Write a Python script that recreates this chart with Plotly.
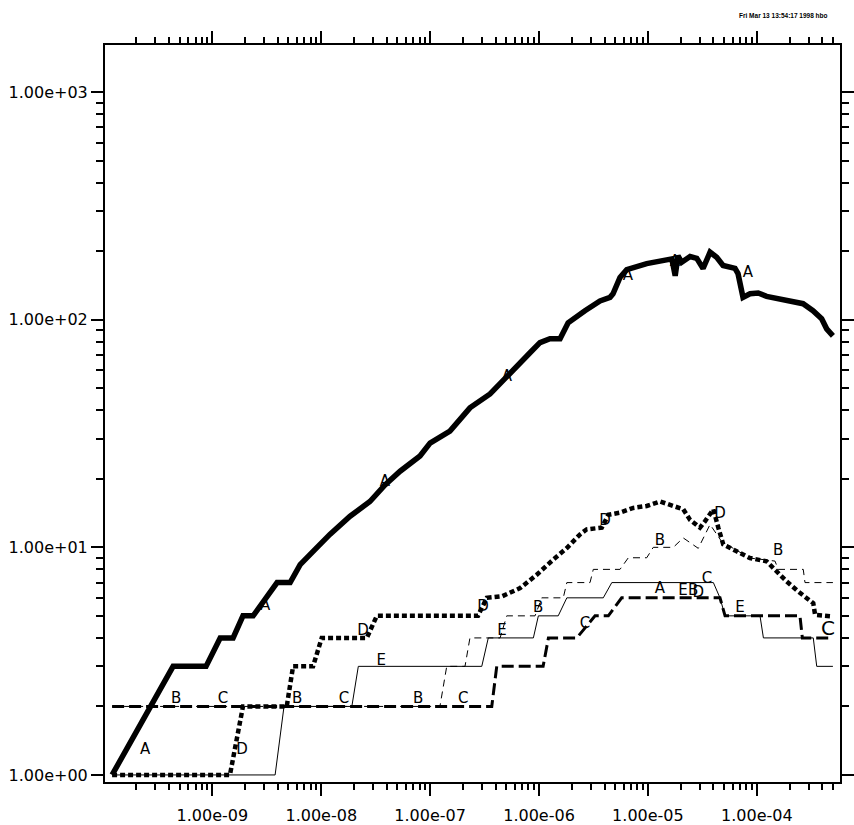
import plotly.graph_objects as go

# ---- series data (x: time, y: count) ----
a_x = [1.2e-10, 4.36e-10, 8.75e-10, 1.18e-9, 1.55e-9, 1.91e-9, 2.37e-9, 3.93e-9, 5.18e-9,
       6.4e-9, 8.78e-9, 1.2e-8, 1.84e-8, 2.8e-8, 3.85e-8, 5.3e-8, 8.07e-8, 9.98e-8, 1.52e-7,
       2.32e-7, 3.55e-7, 4.87e-7, 6.69e-7, 8.26e-7, 1.02e-6, 1.26e-6, 1.56e-6, 1.85e-6,
       2.64e-6, 3.63e-6, 4.49e-6, 4.78e-6, 5.54e-6, 6.39e-6, 9.75e-6, 1.38e-5, 1.66e-5,
       1.78e-5, 1.89e-5, 2.04e-5, 2.44e-5, 2.81e-5, 3.21e-5, 3.72e-5, 4.28e-5, 4.9e-5,
       6.31e-5, 6.72e-5, 7.47e-5, 8.66e-5, 1.03e-4, 1.23e-4, 1.74e-4, 2.66e-4, 3.28e-4,
       3.94e-4, 4.38e-4, 5.0e-4]
a_y = [1, 3, 3, 4, 4, 5, 5, 7, 7,
       8.4, 9.8, 11.4, 13.7, 15.9, 18.8, 21.6, 25.2, 28.7, 32.4,
       41, 47.2, 55.5, 64.7, 71.6, 79.3, 82.5, 82.5, 97,
       109.6, 121, 125.4, 130, 153.5, 166, 176.5, 182, 185,
       156, 191, 178.8, 189.5, 186, 168, 198, 188, 173,
       168, 159.5, 125.4, 130, 131, 126.7, 122.5, 117.6, 109.6,
       101, 91.2, 85]

b_x = [1.2e-10, 1.23e-7, 1.42e-7, 2.09e-7, 2.32e-7, 4.39e-7, 5.05e-7, 9.19e-7, 1.06e-6,
       1.67e-6, 1.80e-6, 2.94e-6, 3.15e-6, 5.54e-6, 6.61e-6, 9.75e-6, 1.12e-5, 1.71e-5,
       2.11e-5, 2.90e-5, 3.72e-5, 4.76e-5, 6.08e-5, 8.65e-5, 1.23e-4, 1.47e-4, 1.57e-4,
       2.67e-4, 2.77e-4, 5.0e-4]
b_y = [2, 2, 3, 3, 4, 4, 5, 5, 6,
       6, 7, 7, 8, 8, 9, 9, 10, 10,
       11, 9.9, 12.6, 10.6, 9.9, 8.97, 8.8, 8.7, 8,
       8, 7, 7]

c_x = [1.2e-10, 3.68e-7, 4.09e-7, 1.09e-6, 1.22e-6, 2.22e-6, 3.27e-6, 4.33e-6, 5.74e-6,
       4.59e-5, 5.11e-5, 2.49e-4, 2.62e-4, 5.0e-4]
c_y = [2, 2, 3, 3, 4, 4, 5, 5, 6,
       6, 5, 5, 4, 4]

d_x = [1.2e-10, 1.45e-9, 1.91e-9, 4.82e-9, 5.51e-9, 8.41e-9, 1.01e-8, 2.62e-8, 3.24e-8,
       2.75e-7, 3.31e-7, 4.6e-7, 6.70e-7, 9.53e-7, 1.35e-6, 1.80e-6, 2.38e-6, 2.74e-6,
       3.77e-6, 4.33e-6, 5.54e-6, 7.34e-6, 9.75e-6, 1.29e-5, 1.71e-5, 2.11e-5, 2.44e-5,
       3.01e-5, 3.34e-5, 3.99e-5, 4.43e-5, 4.92e-5, 6.53e-5, 8.65e-5, 1.23e-4, 1.52e-4,
       1.88e-4, 2.40e-4, 2.87e-4, 3.30e-4, 3.43e-4, 5.0e-4]
d_y = [1, 1, 2, 2, 3, 3, 4, 4, 5,
       5, 6, 6.1, 6.62, 7.58, 8.83, 9.93, 11.4, 12.0,
       12.2, 13.9, 14.2, 14.9, 15.2, 15.9, 15.2, 14.7, 13.2,
       12.2, 13.0, 14.7, 12.2, 10.3, 9.6, 8.97, 8.68, 7.84,
       7.08, 6.4, 5.98, 5.68, 5.05, 4.97]

e_x = [1.2e-10, 3.77e-9, 4.55e-9, 1.91e-8, 2.19e-8, 2.98e-7, 3.42e-7, 8.87e-7, 9.86e-7,
       1.50e-6, 1.80e-6, 3.89e-6, 4.66e-6, 3.99e-5, 4.59e-5, 5.11e-5, 1.07e-4, 1.15e-4,
       3.30e-4, 3.55e-4, 5.0e-4]
e_y = [1, 1, 2, 2, 3, 3, 4, 4, 5,
       5, 6, 6, 7, 7, 6, 5, 5, 4,
       4, 3, 3]

# ---- curve identification letters placed along the curves ----
lbl_text = ["A", "A", "A", "A", "A", "A", "A",
            "B", "B", "B", "B", "B", "B",
            "C", "C", "C", "C", "C",
            "D", "D", "D", "D", "D",
            "E", "E", "E",
            "A", "E", "B", "D"]
lbl_x = [2.41e-10, 3.05e-9, 3.85e-8, 5.08e-7, 6.56e-6, 1.77e-5, 8.30e-5,
         4.64e-10, 6.0e-9, 7.74e-8, 9.79e-7, 1.29e-5, 1.57e-4,
         1.25e-9, 1.62e-8, 2.01e-7, 2.64e-6, 3.49e-5,
         1.87e-9, 2.42e-8, 3.06e-7, 4.04e-6, 4.59e-5,
         3.55e-8, 4.57e-7, 7.02e-5,
         1.29e-5, 2.10e-5, 2.60e-5, 2.90e-5]
lbl_y = [1.29, 5.5, 19.3, 55.8, 156, 178, 159.5,
         2.16, 2.16, 2.16, 5.39, 10.6, 9.6,
         2.16, 2.16, 2.16, 4.58, 7.23,
         1.29, 4.26, 5.44, 13.0, 13.98,
         3.15, 4.26, 5.39,
         6.53, 6.4, 6.4, 6.3]
big_c_x = [4.51e-4]
big_c_y = [4.35]

# ---- axis ticks ----
x_tick_vals = [1e-9, 1e-8, 1e-7, 1e-6, 1e-5, 1e-4]
x_tick_text = ["1.00e-09", "1.00e-08", "1.00e-07", "1.00e-06", "1.00e-05", "1.00e-04"]
y_tick_vals = [1, 10, 100, 1000]
y_tick_text = ["1.00e+00", "1.00e+01", "1.00e+02", "1.00e+03"]

x_minor = [m * 10.0 ** e for e in range(-10, -3) for m in range(2, 10)]
y_minor = [m * 10.0 ** e for e in range(-1, 4) for m in range(2, 10)]

LABEL_FONT = "DejaVu Sans"

fig = go.Figure()

fig.add_trace(go.Scatter(x=a_x, y=a_y, mode="lines", name="A",
                         line=dict(color="black", width=5.5)))
fig.add_trace(go.Scatter(x=b_x, y=b_y, mode="lines", name="B",
                         line=dict(color="black", width=1, dash="7px,5px")))
fig.add_trace(go.Scatter(x=c_x, y=c_y, mode="lines", name="C",
                         line=dict(color="black", width=3, dash="12px,5px")))
fig.add_trace(go.Scatter(x=d_x, y=d_y, mode="lines", name="D",
                         line=dict(color="black", width=4.5, dash="5px,3px")))
fig.add_trace(go.Scatter(x=e_x, y=e_y, mode="lines", name="E",
                         line=dict(color="black", width=1)))
fig.add_trace(go.Scatter(x=lbl_x, y=lbl_y, mode="text", text=lbl_text,
                         textfont=dict(family=LABEL_FONT, size=15, color="black")))
fig.add_trace(go.Scatter(x=big_c_x, y=big_c_y, mode="text", text=["C"],
                         textfont=dict(family=LABEL_FONT, size=20, color="black")))

axis_common = dict(
    type="log",
    showgrid=False,
    zeroline=False,
    showline=True,
    linecolor="black",
    linewidth=2,
    mirror="allticks",
    ticks="outside",
    ticklen=12,
    tickwidth=2,
    tickcolor="black",
    tickmode="array",
    tickfont=dict(family=LABEL_FONT, size=16, color="black"),
)

fig.update_xaxes(
    **axis_common,
    range=[-9.986, -3.236],
    tickvals=x_tick_vals,
    ticktext=x_tick_text,
    ticklabelstandoff=6,
    minor=dict(tickmode="array", tickvals=x_minor, ticks="outside",
               ticklen=6, tickwidth=1.5, tickcolor="black"),
)
fig.update_yaxes(
    **axis_common,
    range=[-0.031, 3.207],
    tickvals=y_tick_vals,
    ticktext=y_tick_text,
    minor=dict(tickmode="array", tickvals=y_minor, ticks="outside",
               ticklen=7, tickwidth=1.5, tickcolor="black"),
)

fig.add_annotation(
    text="<b>Fri Mar 13 13:54:17 1998 hbo</b>",
    xref="paper", yref="paper", x=1.0, y=1.0, xshift=-10, yshift=30,
    xanchor="right", yanchor="middle", showarrow=False,
    font=dict(family="Liberation Sans", size=6.5, color="black"),
)

fig.update_layout(
    width=854, height=825,
    margin=dict(l=105, r=0, t=45, b=36),
    paper_bgcolor="white",
    plot_bgcolor="white",
    showlegend=False,
)

fig.write_html("out.html")
